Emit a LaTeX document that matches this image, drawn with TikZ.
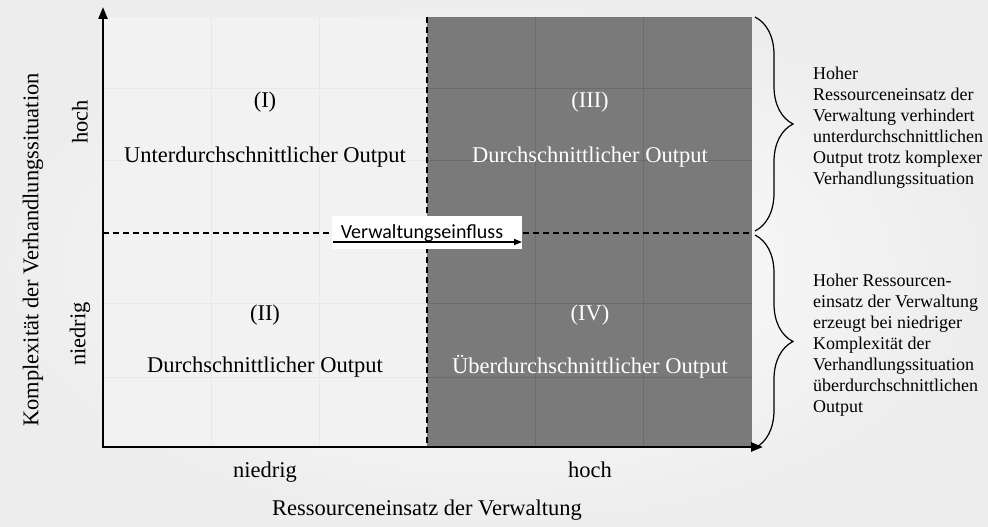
\documentclass[tikz,border=0pt]{standalone}
\usepackage{fontspec}
\setmainfont{Liberation Serif}
\newfontfamily\calfont{Carlito}
\usepackage{tikz}
\usetikzlibrary{arrows.meta,positioning,calc,decorations.pathreplacing}

\begin{document}
\begin{tikzpicture}[
    x=1pt, y=-1pt,
    font=\fontsize{22.5}{26}\selectfont,
    lbl/.style={inner sep=0pt, align=center},
    darklbl/.style={lbl, text=white},
    note/.style={anchor=west, align=left, inner sep=0pt, font=\fontsize{18}{21}\selectfont},
    axis/.style={-{Triangle[length=12pt, width=9pt]}, line width=2.4pt},
    divider/.style={dash pattern=on 6pt off 4pt, line width=1.3pt},
    brc/.style={decorate, decoration={brace, amplitude=38pt}, line width=1.2pt},
    gridlight/.style={black!9, line width=0.8pt},
    griddark/.style={black!58, line width=0.8pt}
]
\useasboundingbox (0,0) rectangle (988,527);
\shade[inner color=white, outer color=black!7] (0,0) rectangle (988,527);

\fill[black!5] (103,17) rectangle (427,446);
\fill[black!52] (427,17) rectangle (752,446);
\foreach \gx in {211,319} \draw[gridlight] (\gx,17) -- (\gx,446);
\foreach \gx in {535,643} \draw[griddark] (\gx,17) -- (\gx,446);
\foreach \gy in {88,160,303,377} {
  \draw[gridlight] (103,\gy) -- (427,\gy);
  \draw[griddark] (427,\gy) -- (752,\gy);
}

\draw[divider] (427,17) -- (427,446);
\draw[divider] (103,233) -- (752,233);

\node[lbl] (q1nr) at (265,102) {(I)};
\node[lbl] (q1) at (265,157) {Unterdurchschnittlicher Output};
\node[darklbl] (q3nr) at (590,102) {(III)};
\node[darklbl] (q3) at (590,157) {Durchschnittlicher Output};
\node[lbl] (q2nr) at (265,315) {(II)};
\node[lbl] (q2) at (265,367) {Durchschnittlicher Output};
\node[darklbl] (q4nr) at (590,315) {(IV)};
\node[darklbl] (q4) at (590,367) {Überdurchschnittlicher Output};

\node[fill=white, minimum width=190pt, minimum height=33pt, inner sep=0pt] (einflbox) at (427,232) {};
\node[anchor=base, inner sep=0pt, font=\calfont\fontsize{20}{22}\selectfont] (einfl) at (422,238) {Verwaltungseinfluss};
\coordinate (einflA) at (333,242);
\coordinate (einflB) at (522,242);
\draw[-{Triangle[length=8pt, width=6pt]}, line width=1.6pt] (einflA) -- (einflB);

\coordinate (origin) at (103,447);
\coordinate (ytip) at (103,7);
\coordinate (xtip) at (763,447);
\draw[axis] (origin) -- (ytip);
\draw[axis] ($(origin)+(-1.2,0)$) -- (xtip);

\node[lbl, rotate=90] (yhoch) at (80,122) {hoch};
\node[lbl, rotate=90] (yniedrig) at (80,334) {niedrig};
\node[lbl, rotate=90] (ytitle) at (33,250) {Komplexität der Verhandlungssituation};
\node[lbl, anchor=base] (xniedrig) at (265,477) {niedrig};
\node[lbl, anchor=base] (xhoch) at (590,477) {hoch};
\node[lbl, anchor=base] (xtitle) at (427,515) {Ressourceneinsatz der Verwaltung};

\coordinate (brcAtop) at (755,17);
\coordinate (brcAbot) at (755,231);
\coordinate (brcBtop) at (755,235);
\coordinate (brcBbot) at (755,448);
\draw[brc] (brcAtop) -- (brcAbot);
\draw[brc] (brcBtop) -- (brcBbot);

\node[note] (noteA) at (813,128) {Hoher\\Ressourceneinsatz der\\Verwaltung verhindert\\unterdurchschnittlichen\\Output trotz komplexer\\Verhandlungssituation};
\node[note] (noteB) at (813,345) {Hoher Ressourcen-\\einsatz der Verwaltung\\erzeugt bei niedriger\\Komplexität der\\Verhandlungssituation\\überdurchschnittlichen\\Output};
\end{tikzpicture}
\end{document}
